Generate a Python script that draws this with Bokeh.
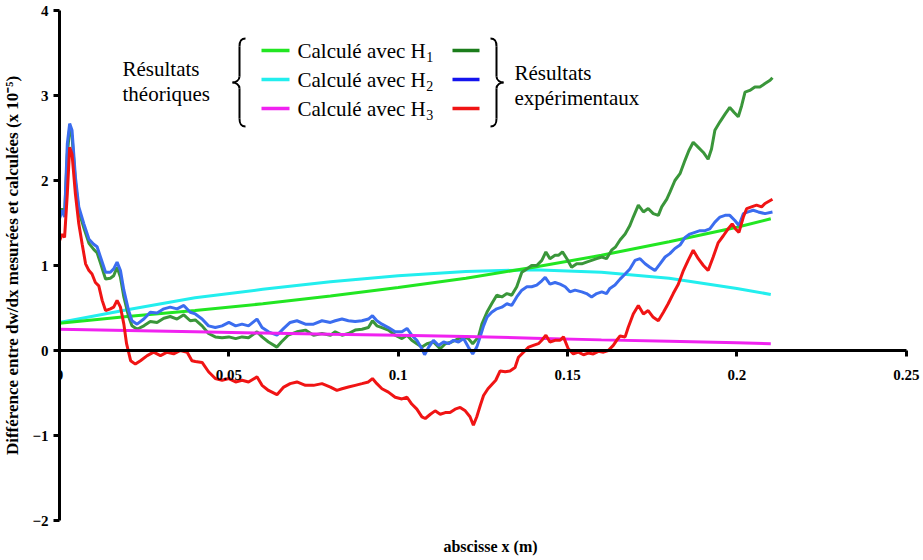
from bokeh.plotting import figure
from bokeh.models import Range1d, FixedTicker, Label, ColumnDataSource, LinearAxis
from bokeh.embed import file_html
from bokeh.resources import INLINE

# ---------------- data ----------------
x_ticks = [0, 0.05, 0.1, 0.15, 0.2, 0.25]
x_tick_labels = ["0", "0.05", "0.1", "0.15", "0.2", "0.25"]
y_ticks = [-2, -1, 0, 1, 2, 3, 4]

# theoretical curves
th_x = [0.0, 0.02, 0.04, 0.06, 0.08, 0.10, 0.12, 0.14, 0.16, 0.18, 0.20, 0.21]
th_h1 = [0.32, 0.40, 0.47, 0.55, 0.64, 0.74, 0.85, 0.98, 1.12, 1.28, 1.45, 1.55]
th_h2 = [0.33, 0.48, 0.62, 0.72, 0.81, 0.88, 0.93, 0.95, 0.92, 0.85, 0.73, 0.66]
th_h3 = [0.25, 0.235, 0.22, 0.205, 0.19, 0.178, 0.165, 0.145, 0.125, 0.11, 0.09, 0.08]

# experimental H1 (green)
ex1_x = [0.0, 0.0008, 0.0015, 0.0023, 0.003, 0.0037, 0.0047, 0.0057, 0.0072, 0.0087,
         0.0101, 0.0111, 0.0121, 0.0136, 0.015, 0.016, 0.017, 0.018, 0.019, 0.0204,
         0.0214, 0.0229, 0.0249, 0.0268, 0.0288, 0.0308, 0.0327, 0.0347, 0.0367, 0.0386,
         0.0401, 0.0421, 0.044, 0.046, 0.048, 0.05, 0.052, 0.0539, 0.0558, 0.0583,
         0.0598, 0.0617, 0.0642, 0.0655, 0.0675, 0.0701, 0.0726, 0.075, 0.0775, 0.08,
         0.0814, 0.0834, 0.0853, 0.0873, 0.0893, 0.0912, 0.0924, 0.0937, 0.0952, 0.0971,
         0.0991, 0.1011, 0.1026, 0.104, 0.1055, 0.107, 0.1085, 0.1104, 0.1124, 0.1139,
         0.1158, 0.1178, 0.1193, 0.1207, 0.122, 0.1237, 0.1247, 0.1262, 0.1276, 0.1291,
         0.1306, 0.1321, 0.1335, 0.135, 0.1365, 0.138, 0.1394, 0.1409, 0.1424, 0.1436,
         0.1448, 0.1463, 0.1473, 0.1485, 0.1498, 0.1512, 0.1527, 0.1542, 0.1556, 0.1571,
         0.1586, 0.1601, 0.1615, 0.163, 0.1642, 0.1655, 0.167, 0.1684, 0.1694, 0.1709,
         0.1724, 0.1738, 0.1753, 0.1768, 0.1778, 0.1793, 0.1802, 0.1817, 0.1832, 0.1847,
         0.1858, 0.1871, 0.1886, 0.1901, 0.1915, 0.1925, 0.1935, 0.195, 0.1965, 0.1979,
         0.1992, 0.2004, 0.2014, 0.2024, 0.2038, 0.2053, 0.2068, 0.2083, 0.2098, 0.2105]
ex1_y = [1.57, 1.67, 1.60, 2.30, 2.62, 2.52, 1.98, 1.64, 1.44, 1.26,
         1.19, 1.15, 1.03, 0.84, 0.85, 0.88, 0.98, 0.86, 0.63, 0.40,
         0.29, 0.25, 0.29, 0.34, 0.33, 0.38, 0.40, 0.37, 0.42, 0.35,
         0.36, 0.29, 0.20, 0.16, 0.15, 0.16, 0.14, 0.16, 0.15, 0.22,
         0.16, 0.10, 0.04, 0.10, 0.18, 0.22, 0.24, 0.18, 0.20, 0.18,
         0.22, 0.18, 0.20, 0.24, 0.25, 0.27, 0.35, 0.29, 0.27, 0.24,
         0.18, 0.14, 0.18, 0.12, 0.08, 0.04, 0.08, 0.10, 0.02, 0.08,
         0.10, 0.14, 0.16, 0.14, 0.08, 0.16, 0.31, 0.45, 0.55, 0.65,
         0.63, 0.67, 0.65, 0.75, 0.92, 0.96, 1.00, 1.00, 1.06, 1.16,
         1.08, 1.12, 1.12, 1.16, 1.08, 0.98, 1.02, 1.02, 1.04, 1.06,
         1.08, 1.10, 1.08, 1.18, 1.22, 1.30, 1.37, 1.47, 1.57, 1.71,
         1.63, 1.67, 1.61, 1.59, 1.69, 1.78, 1.86, 2.00, 2.08, 2.24,
         2.35, 2.45, 2.39, 2.33, 2.25, 2.37, 2.59, 2.69, 2.78, 2.86,
         2.80, 2.75, 2.88, 3.04, 3.06, 3.10, 3.10, 3.14, 3.18, 3.21]

# experimental H2 (blue)
ex2_x = [0.0, 0.0008, 0.0015, 0.0023, 0.003, 0.0037, 0.0047, 0.0057, 0.0072, 0.0087,
         0.0101, 0.0111, 0.0121, 0.0136, 0.015, 0.016, 0.017, 0.018, 0.019, 0.0204,
         0.0214, 0.0229, 0.0249, 0.0268, 0.0288, 0.0308, 0.0327, 0.0347, 0.0367, 0.0386,
         0.0401, 0.0421, 0.044, 0.046, 0.048, 0.05, 0.052, 0.0539, 0.0558, 0.0583,
         0.0598, 0.0617, 0.0642, 0.0662, 0.0681, 0.0701, 0.0726, 0.075, 0.0775, 0.08,
         0.0814, 0.0834, 0.0853, 0.0873, 0.0893, 0.0912, 0.0924, 0.0937, 0.0952, 0.0971,
         0.0991, 0.1011, 0.1026, 0.104, 0.1055, 0.107, 0.1078, 0.109, 0.1104, 0.1119,
         0.1134, 0.1149, 0.1163, 0.1178, 0.1193, 0.1207, 0.122, 0.1232, 0.1242, 0.1252,
         0.1262, 0.1276, 0.1291, 0.1306, 0.1321, 0.1335, 0.135, 0.1365, 0.138, 0.1394,
         0.1409, 0.1424, 0.1434, 0.1448, 0.1463, 0.1478, 0.1493, 0.1507, 0.1522, 0.1542,
         0.1556, 0.1571, 0.1586, 0.1601, 0.1615, 0.1625, 0.164, 0.1655, 0.167, 0.1684,
         0.1699, 0.1714, 0.1729, 0.1743, 0.1758, 0.1773, 0.1788, 0.1802, 0.1817, 0.1832,
         0.1847, 0.1861, 0.1876, 0.1891, 0.1906, 0.192, 0.1935, 0.195, 0.1965, 0.1979,
         0.1994, 0.2006, 0.2019, 0.2033, 0.2048, 0.2063, 0.2083, 0.2105]
ex2_y = [1.55, 1.65, 1.57, 2.43, 2.67, 2.59, 2.04, 1.69, 1.49, 1.31,
         1.25, 1.22, 1.10, 0.92, 0.92, 0.96, 1.04, 0.94, 0.71, 0.47,
         0.35, 0.31, 0.37, 0.45, 0.44, 0.49, 0.51, 0.49, 0.53, 0.45,
         0.43, 0.37, 0.29, 0.27, 0.29, 0.33, 0.29, 0.31, 0.29, 0.37,
         0.27, 0.22, 0.18, 0.26, 0.33, 0.35, 0.31, 0.31, 0.35, 0.33,
         0.35, 0.37, 0.35, 0.34, 0.35, 0.37, 0.41, 0.35, 0.31, 0.27,
         0.22, 0.22, 0.26, 0.18, 0.12, 0.02, -0.05, 0.04, 0.12, 0.06,
         0.10, 0.08, 0.12, 0.10, 0.14, 0.04, -0.04, 0.04, 0.16, 0.29,
         0.39, 0.45, 0.49, 0.51, 0.55, 0.53, 0.63, 0.71, 0.75, 0.75,
         0.77, 0.82, 0.86, 0.78, 0.80, 0.78, 0.75, 0.69, 0.71, 0.69,
         0.67, 0.63, 0.67, 0.69, 0.67, 0.73, 0.77, 0.84, 0.90, 0.96,
         1.06, 1.08, 1.02, 0.98, 0.94, 1.02, 1.10, 1.14, 1.20, 1.24,
         1.33, 1.37, 1.39, 1.41, 1.41, 1.43, 1.51, 1.57, 1.59, 1.59,
         1.53, 1.47, 1.61, 1.63, 1.65, 1.63, 1.61, 1.63]

# experimental H3 (red)
ex3_x = [0.0, 0.0008, 0.0015, 0.0023, 0.003, 0.0037, 0.0047, 0.0057, 0.0067, 0.0077,
         0.0087, 0.0096, 0.0106, 0.0116, 0.0126, 0.0136, 0.015, 0.016, 0.017, 0.018,
         0.019, 0.0198, 0.021, 0.0224, 0.0239, 0.0259, 0.0278, 0.0298, 0.0318, 0.0337,
         0.0357, 0.0377, 0.0391, 0.0401, 0.0421, 0.044, 0.046, 0.048, 0.05, 0.052,
         0.0539, 0.0558, 0.0583, 0.0598, 0.0617, 0.0642, 0.0662, 0.0681, 0.0701, 0.0726,
         0.075, 0.0775, 0.08, 0.0819, 0.0834, 0.0853, 0.0873, 0.0893, 0.0912, 0.0924,
         0.0937, 0.0952, 0.0971, 0.0991, 0.1011, 0.1026, 0.104, 0.1055, 0.107, 0.108,
         0.1095, 0.1109, 0.1124, 0.1139, 0.1153, 0.1168, 0.1183, 0.1198, 0.1212, 0.1222,
         0.1232, 0.1242, 0.1252, 0.1265, 0.1288, 0.1301, 0.1316, 0.133, 0.1345, 0.1355,
         0.137, 0.1385, 0.1399, 0.1414, 0.1424, 0.1436, 0.1448, 0.1463, 0.1478, 0.1488,
         0.1502, 0.1517, 0.1532, 0.1547, 0.1561, 0.1576, 0.1591, 0.1606, 0.162, 0.1635,
         0.1645, 0.1655, 0.167, 0.1679, 0.1694, 0.1709, 0.1724, 0.1738, 0.1753, 0.1768,
         0.1783, 0.1797, 0.1812, 0.1827, 0.1842, 0.1856, 0.1871, 0.1886, 0.1901, 0.1915,
         0.193, 0.1945, 0.196, 0.1974, 0.1986, 0.1996, 0.2006, 0.2019, 0.2029, 0.2043,
         0.2058, 0.2073, 0.2083, 0.2105]
ex3_y = [1.29, 1.37, 1.33, 1.84, 2.39, 2.31, 1.84, 1.49, 1.25, 1.02,
         0.94, 0.90, 0.80, 0.76, 0.59, 0.47, 0.49, 0.51, 0.59, 0.51,
         0.31, 0.08, -0.12, -0.16, -0.12, -0.06, -0.02, -0.06, -0.02, -0.04,
         0.00, -0.02, -0.12, -0.13, -0.14, -0.25, -0.33, -0.35, -0.33, -0.37,
         -0.35, -0.37, -0.31, -0.41, -0.47, -0.52, -0.43, -0.39, -0.37, -0.41,
         -0.41, -0.39, -0.43, -0.47, -0.45, -0.43, -0.41, -0.39, -0.37, -0.33,
         -0.39, -0.45, -0.49, -0.55, -0.57, -0.55, -0.63, -0.69, -0.78, -0.80,
         -0.75, -0.71, -0.75, -0.73, -0.73, -0.69, -0.67, -0.71, -0.78, -0.88,
         -0.78, -0.65, -0.53, -0.45, -0.35, -0.24, -0.25, -0.24, -0.20, -0.08,
         -0.02, 0.04, 0.06, 0.08, 0.12, 0.18, 0.10, 0.12, 0.12, 0.16,
         0.02, -0.04, -0.02, -0.05, -0.03, -0.04, -0.01, -0.02, 0.00, 0.06,
         0.12, 0.17, 0.16, 0.27, 0.43, 0.53, 0.43, 0.47, 0.39, 0.35,
         0.45, 0.55, 0.67, 0.78, 0.94, 1.06, 1.18, 1.08, 1.00, 0.94,
         1.10, 1.27, 1.35, 1.43, 1.49, 1.43, 1.39, 1.57, 1.67, 1.69,
         1.71, 1.69, 1.73, 1.78]

legend_rows = ["Calculé avec H", "Calculé avec H", "Calculé avec H"]
legend_subs = ["1", "2", "3"]
left_group = ["Résultats", "théoriques"]
right_group = ["Résultats", "expérimentaux"]
y_label = "Différence entre dw/dx mesurées et calculées (x 10\u207b\u2075)"
x_label = "abscisse x (m)"

# ---------------- styles / layout ----------------
SERIF = "Liberation Serif"
C_TH1, C_TH2, C_TH3 = "#22e622", "#22eeee", "#f022f0"
C_EX1, C_EX2, C_EX3 = "#3a963a", "#3b6def", "#f01414"
C_LG1, C_LG2, C_LG3 = "#1b7d1b", "#1414ee", "#f01414"

W, H = 921, 558
MB_L, MB_R, MB_T, MB_B = 59, 0, 10, 38
FL, FR = MB_L, W - MB_R
FT, FB = MB_T, H - MB_B
X_END = 0.25
XR, YR = (0, 0.2545), (-2, 4)


def X(px):
    return XR[0] + (px - FL) / (FR - FL) * (XR[1] - XR[0])


def Y(py):
    return YR[1] - (py - FT) / (FB - FT) * (YR[1] - YR[0])


p = figure(width=W, height=H, output_backend="svg", toolbar_location=None,
           x_range=Range1d(*XR), y_range=Range1d(*YR),
           min_border_left=MB_L, min_border_right=MB_R,
           min_border_top=MB_T, min_border_bottom=MB_B)
p.outline_line_color = None
p.grid.visible = False
p.background_fill_color = "white"
p.border_fill_color = "white"

# axes
xa = p.xaxis[0]
xa.fixed_location = 0
xa.bounds = (0, X_END)
xa.ticker = FixedTicker(ticks=x_ticks)
xa.major_label_overrides = {t: l for t, l in zip(x_ticks, x_tick_labels)}
ya = p.yaxis[0]
ya.ticker = FixedTicker(ticks=y_ticks)
for ax in (xa, ya):
    ax.axis_line_width = 3
    ax.axis_line_color = "black"
    ax.major_tick_line_width = 3
    ax.major_tick_line_color = "black"
    ax.major_tick_in = 0
    ax.major_tick_out = 6
    ax.minor_tick_line_color = None
    ax.major_label_text_font = SERIF
    ax.major_label_text_font_style = "bold"
    ax.major_label_text_font_size = "15px"
    ax.major_label_text_color = "black"
xa.major_label_standoff = 13
ya.major_label_standoff = 5
ya.axis_label = y_label
ya.axis_label_text_font = SERIF
ya.axis_label_text_font_style = "bold"
ya.axis_label_text_font_size = "17px"
ya.axis_label_text_color = "black"
ya.axis_label_standoff = 7

# bottom title axis (label only)
xt = LinearAxis(ticker=FixedTicker(ticks=[]), axis_line_color=None,
                major_tick_line_color=None, minor_tick_line_color=None,
                major_tick_out=0, minor_tick_out=0, major_label_standoff=0,
                axis_label=x_label, axis_label_standoff=17,
                axis_label_text_font=SERIF, axis_label_text_font_style="bold",
                axis_label_text_font_size="16px", axis_label_text_color="black")
p.add_layout(xt, "below")

# data lines
p.line(th_x, th_h2, line_color=C_TH2, line_width=3)
p.line(th_x, th_h1, line_color=C_TH1, line_width=3)
p.line(ex1_x, ex1_y, line_color=C_EX1, line_width=3)
p.line(ex2_x, ex2_y, line_color=C_EX2, line_width=3)
p.line(th_x, th_h3, line_color=C_TH3, line_width=3)
p.line(ex3_x, ex3_y, line_color=C_EX3, line_width=3)

# ---------------- custom legend ----------------
FS = 21
rows_py = [50, 79, 108]
for i, txt in enumerate(left_group):
    p.add_layout(Label(x=X(122), y=Y(68 + 25 * i), text=txt, text_align="left",
                       text_baseline="middle", text_font=SERIF, text_font_size=f"{FS}px",
                       text_color="black"))
for i, txt in enumerate(right_group):
    p.add_layout(Label(x=X(514), y=Y(72 + 25 * i), text=txt, text_align="left",
                       text_baseline="middle", text_font=SERIF, text_font_size=f"{FS}px",
                       text_color="black"))

TX0 = 297
H_WIDTH = 6.109 * FS  # advance of "Calculé avec H" in Times metrics
for i, (txt, sub) in enumerate(zip(legend_rows, legend_subs)):
    py = rows_py[i]
    p.add_layout(Label(x=X(TX0), y=Y(py), text=txt, text_align="left",
                       text_baseline="middle", text_font=SERIF, text_font_size=f"{FS}px",
                       text_color="black"))
    p.add_layout(Label(x=X(TX0 + H_WIDTH + 0.5), y=Y(py + 6), text=sub, text_align="left",
                       text_baseline="middle", text_font=SERIF, text_font_size="14px",
                       text_color="black"))

SW_L = (261, 289)
SW_R = (452, 479)
sw = ColumnDataSource(dict(
    x0=[X(SW_L[0])] * 3 + [X(SW_R[0])] * 3,
    x1=[X(SW_L[1])] * 3 + [X(SW_R[1])] * 3,
    y=[Y(v) for v in rows_py] * 2,
    c=[C_TH1, C_TH2, C_TH3, C_LG1, C_LG2, C_LG3],
))
p.segment(x0="x0", y0="y", x1="x1", y1="y", line_color="c", line_width=3.5, source=sw)


def brace(edge, mid, tip, top, bot):
    c = (top + bot) / 2
    s = 1 if edge > mid else -1
    segs = [
        ((edge, top), (mid, top + 8), (mid + s * 1, top), (mid, top + 3)),
        ((mid, top + 8), (mid, c - 6), (mid, top + 12), (mid, c - 10)),
        ((mid, c - 6), (tip, c), (mid, c - 2), (tip + s * 3, c)),
        ((tip, c), (mid, c + 6), (tip + s * 3, c), (mid, c + 2)),
        ((mid, c + 6), (mid, bot - 8), (mid, c + 10), (mid, bot - 12)),
        ((mid, bot - 8), (edge, bot), (mid, bot - 3), (mid + s * 1, bot)),
    ]
    d = dict(x0=[], y0=[], x1=[], y1=[], cx0=[], cy0=[], cx1=[], cy1=[])
    for (a, b, c0, c1) in segs:
        d["x0"].append(X(a[0])); d["y0"].append(Y(a[1]))
        d["x1"].append(X(b[0])); d["y1"].append(Y(b[1]))
        d["cx0"].append(X(c0[0])); d["cy0"].append(Y(c0[1]))
        d["cx1"].append(X(c1[0])); d["cy1"].append(Y(c1[1]))
    return ColumnDataSource(d)


for src in (brace(245, 239, 232, 38, 126), brace(490, 496, 503, 38, 126)):
    p.bezier(x0="x0", y0="y0", x1="x1", y1="y1", cx0="cx0", cy0="cy0",
             cx1="cx1", cy1="cy1", line_color="black", line_width=2, source=src)

open("out.html", "w").write(file_html(p, INLINE))
